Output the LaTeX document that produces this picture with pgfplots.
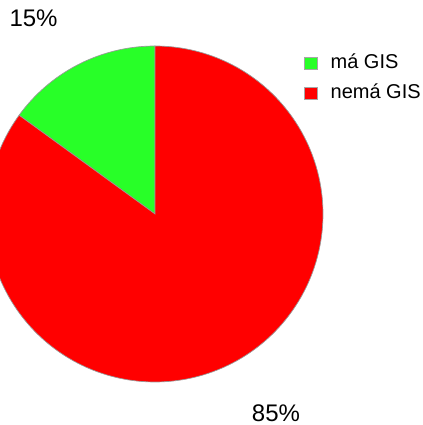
\documentclass[border=0pt]{standalone}
\usepackage{fontspec}
\setmainfont{Liberation Sans}
\usepackage{pgfplots}
\pgfplotsset{compat=1.18}
\definecolor{pgreen}{RGB}{40,255,40}
\definecolor{pred}{RGB}{255,0,0}
\begin{document}
\begin{tikzpicture}
\def\pA{15}
\def\pB{85}
\pgfmathsetmacro{\aStart}{90}
\pgfmathsetmacro{\aMid}{90+3.6*\pA}
\pgfmathsetmacro{\aEnd}{\aMid+3.6*\pB}
\begin{axis}[
  scale only axis,
  width=317.25pt, height=318.75pt,
  xmin=-0.9226, xmax=1.5952,
  ymin=-1.2560, ymax=1.2738,
  hide axis,
  clip=true,
  legend style={draw=none, fill=none, at={(0.7187,0.8730)}, anchor=north west,
    font=\fontsize{15}{18}\selectfont, row sep=8.5pt, column sep=10pt, inner sep=0pt,
    nodes={text height=11pt, text depth=3pt, inner xsep=0pt, inner ysep=0pt},
    cells={anchor=west}},
  legend image code/.code={\filldraw[#1, draw=gray!70] (0pt,-4.3pt) rectangle (9.3pt,5pt);},
]
\addplot[fill=pgreen, draw=gray!80, line width=0.5pt, domain=\aStart:\aMid, samples=60] ({cos(x)},{sin(x)}) -- (axis cs:0,0) -- cycle;
\addlegendentry{má GIS}
\addplot[fill=pred, draw=gray!80, line width=0.5pt, domain=\aMid:\aEnd, samples=200] ({cos(x)},{sin(x)}) -- (axis cs:0,0) -- cycle;
\addlegendentry{nemá GIS}
\node[font=\fontsize{18}{21}\selectfont] at (axis cs:-0.723,1.1667) {15\%};
\node[font=\fontsize{18}{21}\selectfont] at (axis cs:0.720,-1.1845) {85\%};
\end{axis}
\pgfresetboundingbox
\useasboundingbox (current axis.south west) rectangle (current axis.north east);
\end{tikzpicture}
\end{document}
